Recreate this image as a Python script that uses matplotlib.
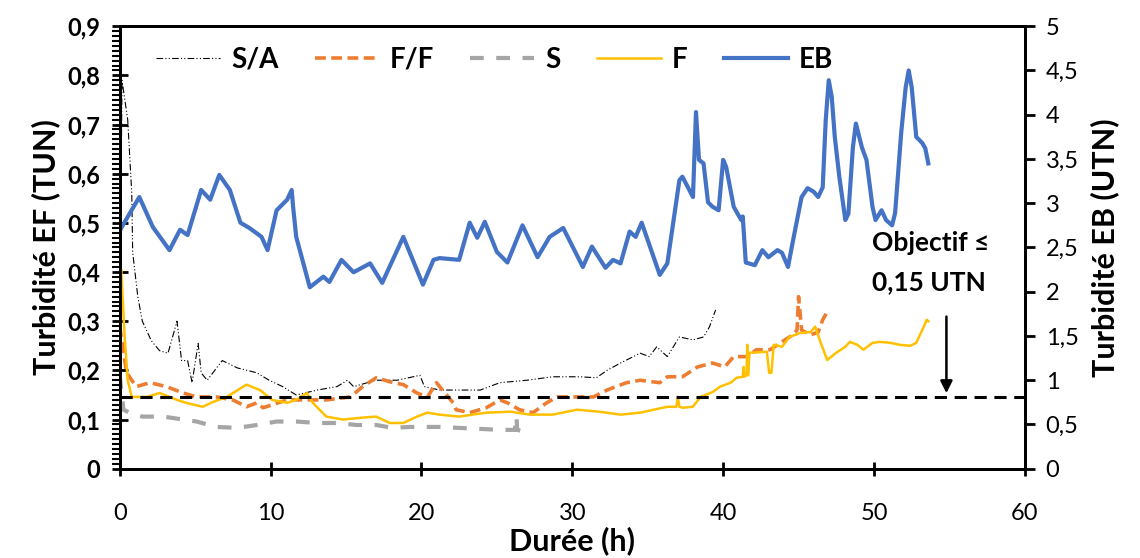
import matplotlib
matplotlib.use("Agg")
import matplotlib.pyplot as plt
from matplotlib.ticker import MultipleLocator, FuncFormatter
from matplotlib.lines import Line2D

plt.rcParams["font.family"] = ["Lato", "DejaVu Sans"]

# EB (right axis, UTN)
eb_x = [0.0, 0.1, 1.3, 2.2, 3.3, 4.0, 4.5, 5.4, 6.0, 6.6, 7.3, 8.0, 8.6, 9.4, 9.8,
        10.4, 11.1, 11.4, 11.5, 11.7, 12.6, 13.5, 13.9, 14.7, 15.5, 16.6, 17.4,
        18.8, 20.1, 20.8, 21.2, 22.5, 23.2, 23.7, 24.2, 25.0, 25.7, 26.7, 27.7,
        28.5, 29.4, 30.7, 31.3, 32.2, 32.7, 33.2, 33.8, 34.2, 34.6, 35.8, 36.3,
        37.1, 37.3, 38.0, 38.2, 38.4, 38.7, 39.0, 39.3, 39.7, 40.0, 40.2, 40.7,
        41.2, 41.3, 41.5, 42.1, 42.6, 43.0, 43.6, 43.9, 44.3, 44.6, 45.2, 45.6,
        46.0, 46.3, 46.6, 46.8, 47.0, 47.2, 47.4, 47.7, 48.1, 48.3, 48.6, 48.8,
        49.2, 49.5, 49.9, 50.1, 50.5, 50.8, 51.2, 51.4, 51.8, 52.1, 52.3, 52.5,
        52.8, 53.2, 53.4, 53.6]
eb_y = [2.68, 2.72, 3.07, 2.73, 2.47, 2.70, 2.64, 3.15, 3.04, 3.32, 3.15, 2.78, 2.72,
        2.62, 2.47, 2.92, 3.04, 3.15, 2.95, 2.62, 2.05, 2.17, 2.11, 2.36, 2.22, 2.32,
        2.10, 2.62, 2.08, 2.36, 2.38, 2.36, 2.78, 2.61, 2.79, 2.45, 2.33, 2.75, 2.39,
        2.62, 2.72, 2.28, 2.51, 2.27, 2.36, 2.32, 2.68, 2.62, 2.78, 2.19, 2.32, 3.26,
        3.30, 3.07, 4.03, 3.49, 3.45, 3.01, 2.96, 2.92, 3.49, 3.41, 2.96, 2.81, 2.85,
        2.33, 2.30, 2.47, 2.39, 2.47, 2.44, 2.28, 2.55, 3.07, 3.17, 3.13, 3.07, 3.18,
        3.94, 4.39, 4.20, 3.75, 3.30, 2.81, 2.88, 3.63, 3.90, 3.63, 3.49, 2.96, 2.81,
        2.92, 2.81, 2.75, 2.89, 3.79, 4.31, 4.50, 4.31, 3.75, 3.68, 3.62, 3.45]

# S/A
sa_x = [0.0, 0.15, 0.2, 0.53, 0.8, 0.86, 1.2, 1.5, 2.1, 2.65, 3.2, 3.8, 4.1, 4.5,
        4.8, 5.2, 5.4, 5.8, 6.8, 7.8, 9.1, 9.9, 10.8, 11.7, 13.1, 14.4, 15.1, 15.5,
        17.0, 18.4, 19.9, 20.2, 21.2, 22.5, 23.9, 25.2, 27.0, 28.7, 30.5, 31.6,
        32.3, 33.2, 34.5, 35.1, 35.6, 36.3, 37.1, 38.0, 38.7, 39.1, 39.5]
sa_y = [0.17, 0.79, 0.78, 0.71, 0.56, 0.44, 0.35, 0.30, 0.26, 0.24, 0.235, 0.30, 0.22,
        0.22, 0.175, 0.255, 0.195, 0.18, 0.22, 0.205, 0.195, 0.18, 0.167, 0.15, 0.16,
        0.167, 0.18, 0.167, 0.18, 0.18, 0.19, 0.167, 0.16, 0.16, 0.16, 0.175, 0.18,
        0.187, 0.187, 0.185, 0.20, 0.215, 0.235, 0.228, 0.248, 0.228, 0.268, 0.262,
        0.268, 0.289, 0.323]

# F/F
ff_x = [0.0, 0.46, 1.1, 2.0, 3.1, 4.2, 5.1, 6.4, 7.5, 8.4, 9.1, 9.5, 11.1, 12.6,
        13.7, 15.3, 16.1, 17.0, 17.9, 18.8, 19.7, 20.4, 21.0, 21.4, 22.1, 22.3,
        23.2, 24.3, 25.2, 25.7, 26.5, 27.4, 28.3, 29.0, 30.3, 31.4, 32.3, 33.6,
        34.5, 35.8, 36.3, 37.3, 38.3, 39.3, 40.1, 40.7, 41.6, 42.2, 43.1, 43.8,
        44.6, 44.9, 45.0, 45.2, 45.8, 46.3, 46.6, 46.9]
ff_y = [0.29, 0.195, 0.167, 0.175, 0.167, 0.154, 0.146, 0.146, 0.14, 0.126, 0.134,
        0.124, 0.14, 0.14, 0.14, 0.146, 0.167, 0.185, 0.177, 0.171, 0.154, 0.146,
        0.175, 0.16, 0.134, 0.12, 0.114, 0.124, 0.14, 0.134, 0.12, 0.114, 0.134,
        0.146, 0.146, 0.146, 0.16, 0.175, 0.18, 0.175, 0.187, 0.187, 0.207, 0.215,
        0.207, 0.228, 0.228, 0.242, 0.242, 0.256, 0.272, 0.282, 0.35, 0.282, 0.272,
        0.278, 0.303, 0.319]

# S
s_x = [0.0, 0.25, 0.66, 1.5, 2.9, 4.2, 5.1, 6.4, 7.8, 9.1, 10.4, 11.7, 13.1, 14.4,
       15.7, 17.0, 18.1, 19.2, 20.4, 21.2, 22.5, 23.9, 25.2, 26.2, 26.25, 26.3,
       26.35, 27.2]
s_y = [0.19, 0.12, 0.114, 0.106, 0.106, 0.10, 0.096, 0.085, 0.083, 0.089, 0.096,
       0.096, 0.093, 0.093, 0.089, 0.089, 0.083, 0.085, 0.085, 0.085, 0.083, 0.081,
       0.079, 0.079, 0.106, 0.106, 0.079, 0.073]

# F
f_x = [0.0, 0.1, 0.33, 0.53, 0.8, 1.8, 2.65, 3.8, 4.4, 5.5, 6.2, 7.1, 8.4, 9.3,
       10.1, 11.1, 11.7, 12.4, 12.8, 13.7, 14.8, 16.1, 17.0, 17.9, 18.8, 19.7,
       20.4, 21.2, 22.5, 24.3, 25.9, 27.2, 28.7, 30.3, 31.8, 33.2, 34.5, 35.4,
       36.3, 36.9, 37.0, 37.1, 37.3, 38.0, 38.5, 39.3, 39.8, 40.5, 40.9, 41.3,
       41.35, 41.4, 41.55, 41.6, 41.65, 41.75, 42.0, 42.9, 43.05, 43.2, 43.35,
       43.4, 43.9, 44.4, 45.1, 45.8, 46.1, 46.4, 46.9, 47.5, 48.1, 48.4, 48.9,
       49.3, 49.9, 50.4, 51.1, 51.7, 52.4, 52.8, 53.3, 53.5, 53.6]
f_y = [0.38, 0.405, 0.268, 0.18, 0.146, 0.146, 0.154, 0.14, 0.134, 0.126, 0.136,
       0.146, 0.171, 0.16, 0.14, 0.134, 0.14, 0.154, 0.134, 0.106, 0.10, 0.104,
       0.106, 0.093, 0.093, 0.106, 0.114, 0.11, 0.106, 0.114, 0.116, 0.11, 0.11,
       0.12, 0.116, 0.11, 0.114, 0.12, 0.126, 0.126, 0.146, 0.126, 0.124, 0.126,
       0.146, 0.156, 0.167, 0.175, 0.185, 0.187, 0.207, 0.187, 0.19, 0.252, 0.19,
       0.236, 0.236, 0.238, 0.195, 0.195, 0.252, 0.252, 0.248, 0.268, 0.276, 0.278,
       0.289, 0.262, 0.221, 0.236, 0.248, 0.258, 0.252, 0.242, 0.256, 0.258, 0.256,
       0.252, 0.25, 0.256, 0.289, 0.303, 0.30]

objectif = 0.145
arrow_x = 54.8
arrow_top = 0.315

comma = FuncFormatter(lambda v, p: f"{v:g}".replace(".", ","))

fig = plt.figure(figsize=(11.4, 5.58), dpi=100)
ax = fig.add_axes([0.105, 0.16, 0.794, 0.793])
ax2 = ax.twinx()

ax.plot(sa_x, sa_y, color="black", lw=0.8, ls=(0, (6, 2, 1, 2, 1, 2)), zorder=3)
ax.plot(ff_x, ff_y, color="#ED7D31", lw=2.6, ls=(0, (3, 1.5)), zorder=3)
ax.plot(s_x, s_y, color="#A5A5A5", lw=3, ls=(0, (3.3, 3)), zorder=3)
ax.plot(f_x, f_y, color="#FFC000", lw=1.8, zorder=3)
ax.plot([0, 60], [objectif, objectif], color="black", lw=2.2, ls=(0, (4, 2.5)), zorder=4)
ax2.plot(eb_x, eb_y, color="#4472C4", lw=3)

ax.annotate("", xy=(arrow_x, objectif + 0.003), xytext=(arrow_x, arrow_top),
            arrowprops=dict(arrowstyle="-|>", color="black", lw=1.8, mutation_scale=18))
ax.text(49.9, 0.459, "Objectif ≤", fontsize=19, fontweight="bold", va="center", ha="left")
ax.text(49.9, 0.38, "0,15 UTN", fontsize=19, fontweight="bold", va="center", ha="left")

ax.set_xlim(0, 60)
ax.set_ylim(0, 0.9)
ax2.set_ylim(0, 5)
ax.xaxis.set_major_locator(MultipleLocator(10))
ax.yaxis.set_major_locator(MultipleLocator(0.1))
ax.yaxis.set_minor_locator(MultipleLocator(0.01))
ax2.yaxis.set_major_locator(MultipleLocator(0.5))
ax.xaxis.set_major_formatter(comma)
ax.yaxis.set_major_formatter(comma)
ax2.yaxis.set_major_formatter(comma)

for a in (ax, ax2):
    for s in a.spines.values():
        s.set_linewidth(2)
ax.tick_params(axis="x", direction="inout", length=10, width=2, labelsize=17, pad=20)
ax.tick_params(axis="y", which="major", direction="inout", length=12, width=2, labelsize=17, pad=8)
ax.tick_params(axis="y", which="minor", direction="out", length=6, width=1.5)
ax2.tick_params(axis="y", direction="out", length=7, width=2, labelsize=17, pad=8)
for lab in ax.get_yticklabels():
    lab.set_fontweight("bold")

ax.set_xlabel("Durée (h)", fontsize=22, fontweight="bold", labelpad=1)
ax.set_ylabel("Turbidité EF (TUN)", fontsize=22, fontweight="bold", labelpad=5)
ax2.set_ylabel("Turbidité EB (UTN)", fontsize=22, fontweight="bold", labelpad=8)

handles = [
    Line2D([], [], color="black", lw=0.8, ls=(0, (6, 2, 1, 2, 1, 2))),
    Line2D([], [], color="#ED7D31", lw=2.6, ls=(0, (3, 1.5))),
    Line2D([], [], color="#A5A5A5", lw=3, ls=(0, (3.3, 3))),
    Line2D([], [], color="#FFC000", lw=1.8),
    Line2D([], [], color="#4472C4", lw=3),
]
ax2.legend(handles, ["S/A", "F/F", "S", "F", "EB"], ncol=5, frameon=False,
           loc="upper left", bbox_to_anchor=(0.013, 1.01), handlelength=2.3,
           columnspacing=1.3, handletextpad=0.4,
           prop={"size": 20, "weight": "bold"})

fig.savefig("out.png", dpi=100)
